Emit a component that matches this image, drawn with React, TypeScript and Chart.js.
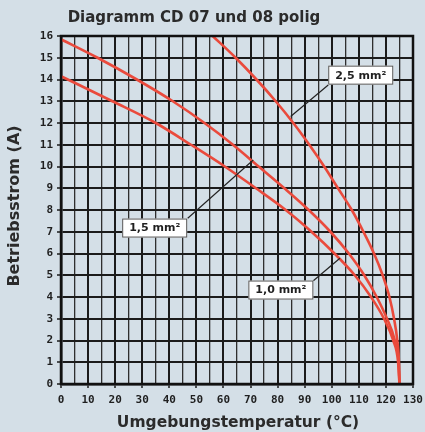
import React, { useEffect, useRef } from 'react';
import { Chart, registerables } from 'chart.js';

Chart.register(...registerables);

const TITLE = 'Diagramm CD 07 und 08 polig';
const X_TITLE = 'Umgebungstemperatur (°C)';
const Y_TITLE = 'Betriebsstrom (A)';

// x-axis range / ticks (°C), y-axis range / ticks (A)
const X_MIN = 0;
const X_MAX = 130;
const X_STEP = 5;
const X_LABEL_STEP = 10;
const Y_MIN = 0;
const Y_MAX = 16;
const Y_STEP = 1;

// 1,0 mm²
const temp10 = [0, 19, 35, 48, 60.5, 72, 83, 92.5, 101, 108.5, 114.5, 119.3, 122.7, 124.5, 125];
const amp10 = [14.15, 13, 12, 11, 10, 9, 8, 7, 6, 5, 4, 3, 2, 1, 0];

// 1,5 mm²
const temp15 = [0, 13.5, 28, 41.3, 53, 63.5, 73, 82.5, 91.5, 99.5, 106.3, 112, 116.6, 120.4, 123.3, 124.7, 125];
const amp15 = [15.85, 15, 14, 13, 12, 11, 10, 9, 8, 7, 6, 5, 4, 3, 2, 1, 0];

// 2,5 mm²
const temp25 = [56, 64.5, 72.2, 79.3, 85.8, 91.7, 97.2, 102.3, 107.4, 111.7, 115.6, 118.8, 121.3, 123, 124.2, 124.8, 125];
const amp25 = [16, 15, 14, 13, 12, 11, 10, 9, 8, 7, 6, 5, 4, 3, 2, 1, 0];

const seriesLabels = ['1,0 mm²', '1,5 mm²', '2,5 mm²'];

// callout boxes: label, box centre (°C, A), leader line start / end (°C, A)
const callouts = [
  { text: '2,5 mm²', cx: 110.7, cy: 14.2, fx: 98.7, fy: 13.75, tx: 84.8, ty: 12.3 },
  { text: '1,5 mm²', cx: 34.6, cy: 7.17, fx: 46.8, fy: 7.62, tx: 71, ty: 10.3 },
  { text: '1,0 mm²', cx: 81.2, cy: 4.32, fx: 93.2, fy: 4.75, tx: 103, ty: 5.78 },
];

const BG = '#d4dfe7';
const INK = '#1f1f1f';
const GRID = '#1b1b1b';
const RED = '#ea4a3c';
const TICK_FONT = '"DejaVu Sans Mono", monospace';
const TITLE_FONT = '"DejaVu Sans", sans-serif';

const zip = (xs: number[], ys: number[]) => xs.map((x, i) => ({ x, y: ys[i] }));

const overlay = {
  id: 'overlay',
  beforeDraw(chart: any) {
    const { ctx, width, height } = chart;
    ctx.save();
    ctx.fillStyle = BG;
    ctx.fillRect(0, 0, width, height);
    ctx.restore();
  },
  afterDraw(chart: any) {
    const { ctx, chartArea: a, scales } = chart;
    const xs = scales.x;
    const ys = scales.y;
    ctx.save();
    // frame
    ctx.strokeStyle = '#111';
    ctx.lineWidth = 2.5;
    ctx.strokeRect(a.left, a.top, a.right - a.left, a.bottom - a.top);

    // callouts
    ctx.font = `bold 11px ${TITLE_FONT}`;
    for (const c of callouts) {
      ctx.strokeStyle = '#222';
      ctx.lineWidth = 1.2;
      ctx.beginPath();
      ctx.moveTo(xs.getPixelForValue(c.fx), ys.getPixelForValue(c.fy));
      ctx.lineTo(xs.getPixelForValue(c.tx), ys.getPixelForValue(c.ty));
      ctx.stroke();
      const px = xs.getPixelForValue(c.cx);
      const py = ys.getPixelForValue(c.cy);
      const w = 65;
      const h = 19;
      ctx.fillStyle = '#ffffff';
      ctx.fillRect(px - w / 2, py - h / 2, w, h);
      ctx.strokeStyle = '#555';
      ctx.lineWidth = 1;
      ctx.strokeRect(px - w / 2 + 0.5, py - h / 2 + 0.5, w - 1, h - 1);
      ctx.fillStyle = INK;
      ctx.textAlign = 'center';
      ctx.textBaseline = 'middle';
      ctx.fillText(c.text, px, py + 0.5);
    }

    // titles
    ctx.fillStyle = '#2b2b2b';
    ctx.textAlign = 'center';
    ctx.textBaseline = 'alphabetic';
    ctx.font = `bold 15px ${TITLE_FONT}`;
    ctx.fillText(TITLE, 194, 22);
    ctx.font = `bold 15.5px ${TITLE_FONT}`;
    ctx.fillText(X_TITLE, 238, 427);
    ctx.translate(15, 206);
    ctx.rotate(-Math.PI / 2);
    ctx.textBaseline = 'middle';
    ctx.font = `bold 16px ${TITLE_FONT}`;
    ctx.fillText(Y_TITLE, 0, 0);
    ctx.restore();
  },
};

export default function App() {
  const ref = useRef<HTMLCanvasElement | null>(null);
  useEffect(() => {
    if (!ref.current) return;
    const chart = new Chart(ref.current, {
      type: 'line',
      data: {
        datasets: [
          { label: seriesLabels[0], data: zip(temp10, amp10) },
          { label: seriesLabels[1], data: zip(temp15, amp15) },
          { label: seriesLabels[2], data: zip(temp25, amp25) },
        ].map((d) => ({
          ...d,
          borderColor: RED,
          backgroundColor: RED,
          borderWidth: 2.6,
          pointRadius: 0,
          cubicInterpolationMode: 'monotone' as const,
          fill: false,
        })),
      },
      options: {
        animation: false,
        responsive: false,
        devicePixelRatio: 1,
        layout: { padding: { top: 36, right: 12, left: 0, bottom: 0 } },
        plugins: {
          legend: { display: false },
          tooltip: { enabled: false },
          title: { display: false },
        },
        scales: {
          x: {
            type: 'linear',
            min: X_MIN,
            max: X_MAX,
            afterFit: (s: any) => {
              s.height = 48;
              s.paddingLeft = 0;
              s.paddingRight = 0;
            },
            ticks: {
              stepSize: X_STEP,
              autoSkip: false,
              maxRotation: 0,
              padding: 6,
              color: INK,
              font: { family: TICK_FONT, weight: 'bold', size: 11 },
              callback: (v: any) => (Number(v) % X_LABEL_STEP === 0 ? String(v) : ''),
            },
            grid: {
              color: (c: any) => (c.tick && c.tick.value % X_LABEL_STEP === 0 ? GRID : '#2e2e2e'),
              lineWidth: (c: any) => (c.tick && c.tick.value % X_LABEL_STEP === 0 ? 2 : 1.3),
              tickColor: (c: any) => (c.tick && c.tick.value % X_LABEL_STEP === 0 ? GRID : 'rgba(0,0,0,0)'),
              tickLength: 4,
              tickWidth: 1.5,
            },
            border: { display: true, color: '#111', width: 2.5 },
          },
          y: {
            type: 'linear',
            min: Y_MIN,
            max: Y_MAX,
            afterFit: (s: any) => {
              s.width = 61;
              s.paddingTop = 0;
              s.paddingBottom = 0;
            },
            ticks: {
              stepSize: Y_STEP,
              padding: 4,
              color: INK,
              font: { family: TICK_FONT, weight: 'bold', size: 11 },
            },
            grid: {
              color: GRID,
              lineWidth: 2,
              tickLength: 4,
              tickColor: GRID,
              tickWidth: 1.5,
            },
            border: { display: true, color: '#111', width: 2.5 },
          },
        },
      },
      plugins: [overlay],
    } as any);
    return () => chart.destroy();
  }, []);
  return (
    <div style={{ position: 'fixed', left: 0, top: 0, width: 425, height: 432 }}>
      <canvas ref={ref} width={425} height={432} style={{ display: 'block', width: 425, height: 432 }} />
    </div>
  );
}
